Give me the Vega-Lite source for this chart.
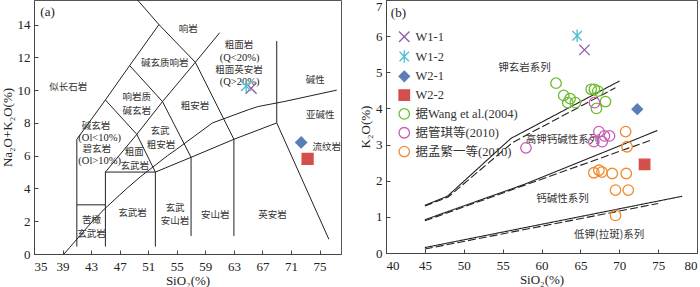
{
  "$schema": "https://vega.github.io/schema/vega-lite/v6.json",
  "background": "white",
  "padding": {"left": 0, "top": -1, "right": 0, "bottom": 0},
  "bounds": "flush",
  "spacing": 45,
  "config": {
    "font": "Liberation Serif",
    "view": {"stroke": "#555", "strokeWidth": 1},
    "axis": {
      "labelFont": "Liberation Serif", "labelFontSize": 13, "labelColor": "#222",
      "titleFont": "Liberation Serif", "titleFontSize": 13, "titleFontWeight": "normal", "titleColor": "#222",
      "domainColor": "#444", "tickColor": "#444", "tickSize": -4, "labelPadding": 8, "grid": false, "titlePadding": 3, "labelOverlap": false
    }
  },
  "datasets": {
    "tasLines": [
      {"seg": "a1", "o": 0, "x": 41, "y": 0.45}, {"seg": "a1", "o": 1, "x": 41, "y": 7}, {"seg": "a1", "o": 2, "x": 45, "y": 9.4}, {"seg": "a1", "o": 3, "x": 48.4, "y": 11.5}, {"seg": "a1", "o": 4, "x": 52.5, "y": 14}, {"seg": "a1", "o": 5, "x": 49.5, "y": 15.5},
      {"seg": "a2", "o": 0, "x": 41, "y": 3}, {"seg": "a2", "o": 1, "x": 45, "y": 3},
      {"seg": "a3", "o": 0, "x": 45, "y": 0.45}, {"seg": "a3", "o": 1, "x": 45, "y": 5}, {"seg": "a3", "o": 2, "x": 52, "y": 5}, {"seg": "a3", "o": 3, "x": 52, "y": 0.45},
      {"seg": "a4", "o": 0, "x": 45, "y": 5}, {"seg": "a4", "o": 1, "x": 49.4, "y": 7.3}, {"seg": "a4", "o": 2, "x": 52, "y": 5},
      {"seg": "a5", "o": 0, "x": 52, "y": 5}, {"seg": "a5", "o": 1, "x": 57, "y": 5.9}, {"seg": "a5", "o": 2, "x": 63, "y": 7}, {"seg": "a5", "o": 3, "x": 69, "y": 8}, {"seg": "a5", "o": 4, "x": 76.3, "y": 0.9},
      {"seg": "a6", "o": 0, "x": 57, "y": 1.1}, {"seg": "a6", "o": 1, "x": 57, "y": 5.9}, {"seg": "a6", "o": 2, "x": 53, "y": 9.3}, {"seg": "a6", "o": 3, "x": 49.4, "y": 7.3}, {"seg": "a6", "o": 4, "x": 45, "y": 9.4},
      {"seg": "a7", "o": 0, "x": 48.4, "y": 11.5}, {"seg": "a7", "o": 1, "x": 53, "y": 9.3}, {"seg": "a7", "o": 2, "x": 57.6, "y": 11.7}, {"seg": "a7", "o": 3, "x": 52.5, "y": 14},
      {"seg": "a8", "o": 0, "x": 63, "y": 1.1}, {"seg": "a8", "o": 1, "x": 63, "y": 7}, {"seg": "a8", "o": 2, "x": 57.6, "y": 11.7}, {"seg": "a8", "o": 3, "x": 61, "y": 13.5},
      {"seg": "a9", "o": 0, "x": 69, "y": 8}, {"seg": "a9", "o": 1, "x": 69, "y": 13},
      {"seg": "a10", "o": 0, "x": 39.2, "y": 0}, {"seg": "a10", "o": 1, "x": 40, "y": 0.4}, {"seg": "a10", "o": 2, "x": 43.2, "y": 2}, {"seg": "a10", "o": 3, "x": 45, "y": 2.8}, {"seg": "a10", "o": 4, "x": 48, "y": 4}, {"seg": "a10", "o": 5, "x": 50, "y": 4.75}, {"seg": "a10", "o": 6, "x": 53.7, "y": 6}, {"seg": "a10", "o": 7, "x": 55, "y": 6.4}, {"seg": "a10", "o": 8, "x": 60, "y": 8}, {"seg": "a10", "o": 9, "x": 65, "y": 8.8}, {"seg": "a10", "o": 10, "x": 66.4, "y": 9}, {"seg": "a10", "o": 11, "x": 70, "y": 9.3}, {"seg": "a10", "o": 12, "x": 77.4, "y": 10}
    ],
    "tasText": [
      {"t": "响岩", "x": 56.6, "y": 13.76},
      {"t": "碱玄质响岩", "x": 53.3, "y": 11.63},
      {"t": "似长石岩", "x": 39.8, "y": 10.18},
      {"t": "响岩质", "x": 49.4, "y": 9.56},
      {"t": "碱玄岩", "x": 49.4, "y": 8.7},
      {"t": "粗安岩", "x": 57.55, "y": 9.04},
      {"t": "粗面岩", "x": 63.7, "y": 12.74},
      {"t": "粗面英安岩", "x": 63.7, "y": 11.25},
      {"t": "碱性", "x": 74.4, "y": 10.62},
      {"t": "亚碱性", "x": 75.1, "y": 8.5},
      {"t": "碱玄岩", "x": 43.7, "y": 7.84},
      {"t": "碧玄岩", "x": 43.8, "y": 6.42},
      {"t": "玄武", "x": 52.65, "y": 7.5},
      {"t": "粗安岩", "x": 52.8, "y": 6.66},
      {"t": "粗面", "x": 49.05, "y": 6.2},
      {"t": "玄武岩", "x": 49.1, "y": 5.36},
      {"t": "流纹岩", "x": 76.0, "y": 6.53},
      {"t": "苦橄", "x": 43.06, "y": 2.1},
      {"t": "玄武岩", "x": 43.06, "y": 1.24},
      {"t": "玄武岩", "x": 48.8, "y": 2.49},
      {"t": "玄武", "x": 54.75, "y": 2.82},
      {"t": "安山岩", "x": 54.75, "y": 2.02},
      {"t": "安山岩", "x": 60.4, "y": 2.37},
      {"t": "英安岩", "x": 68.4, "y": 2.37}
    ],
    "tasLatin": [
      {"t": "(Q<20%)", "x": 63.8, "y": 11.98},
      {"t": "(Q>20%)", "x": 63.8, "y": 10.52},
      {"t": "(Ol<10%)", "x": 44.2, "y": 7.1},
      {"t": "(Ol>10%)", "x": 44.2, "y": 5.66}
    ],
    "samplesA": [
      {"s": "W1-1", "x": 65.41, "y": 10.11},
      {"s": "W1-2", "x": 64.71, "y": 10.25},
      {"s": "W2-1", "x": 72.42, "y": 6.81},
      {"s": "W2-2", "x": 73.32, "y": 5.81}
    ],
    "kLines": [
      {"seg": "b1", "scheme": "P", "o": 0, "x": 45, "y": 1.32}, {"seg": "b1", "scheme": "P", "o": 1, "x": 47.9, "y": 1.57}, {"seg": "b1", "scheme": "P", "o": 2, "x": 56.06, "y": 3.17}, {"seg": "b1", "scheme": "P", "o": 3, "x": 70.04, "y": 4.76},
      {"seg": "b1d", "scheme": "R", "o": 0, "x": 45, "y": 1.3}, {"seg": "b1d", "scheme": "R", "o": 1, "x": 48, "y": 1.55}, {"seg": "b1d", "scheme": "R", "o": 2, "x": 56.3, "y": 3.06}, {"seg": "b1d", "scheme": "R", "o": 3, "x": 69.5, "y": 4.57},
      {"seg": "b2", "scheme": "P", "o": 0, "x": 45, "y": 0.92}, {"seg": "b2", "scheme": "P", "o": 1, "x": 57.8, "y": 1.9}, {"seg": "b2", "scheme": "P", "o": 2, "x": 74.9, "y": 3.39},
      {"seg": "b2d", "scheme": "R", "o": 0, "x": 45, "y": 0.89}, {"seg": "b2d", "scheme": "R", "o": 1, "x": 74.3, "y": 3.14},
      {"seg": "b3", "scheme": "P", "o": 0, "x": 45, "y": 0.15}, {"seg": "b3", "scheme": "P", "o": 1, "x": 78.1, "y": 1.57},
      {"seg": "b3d", "scheme": "R", "o": 0, "x": 45, "y": 0.11}, {"seg": "b3d", "scheme": "R", "o": 1, "x": 75, "y": 1.37}
    ],
    "kText": [
      {"t": "钾玄岩系列", "x": 57.8, "y": 5.13},
      {"t": "高钾钙碱性系列", "x": 62.7, "y": 3.14},
      {"t": "钙碱性系列", "x": 62.7, "y": 1.5},
      {"t": "低钾(拉斑)系列", "x": 68.7, "y": 0.51}
    ],
    "samplesB": [
      {"s": "W1-1", "x": 65.52, "y": 5.62},
      {"s": "W1-2", "x": 64.58, "y": 6.01},
      {"s": "W2-1", "x": 72.32, "y": 3.98},
      {"s": "W2-2", "x": 73.26, "y": 2.45},
      {"s": "据Wang et al.(2004)", "x": 61.87, "y": 4.7},
      {"s": "据Wang et al.(2004)", "x": 62.86, "y": 4.36},
      {"s": "据Wang et al.(2004)", "x": 63.68, "y": 4.27},
      {"s": "据Wang et al.(2004)", "x": 63.38, "y": 4.16},
      {"s": "据Wang et al.(2004)", "x": 64.36, "y": 4.16},
      {"s": "据Wang et al.(2004)", "x": 66.39, "y": 4.53},
      {"s": "据Wang et al.(2004)", "x": 66.8, "y": 4.53},
      {"s": "据Wang et al.(2004)", "x": 67.25, "y": 4.48},
      {"s": "据Wang et al.(2004)", "x": 68.23, "y": 4.19},
      {"s": "据Wang et al.(2004)", "x": 67.07, "y": 4.0},
      {"s": "据管琪等(2010)", "x": 66.82, "y": 4.16},
      {"s": "据管琪等(2010)", "x": 67.38, "y": 3.36},
      {"s": "据管琪等(2010)", "x": 68.1, "y": 3.24},
      {"s": "据管琪等(2010)", "x": 68.75, "y": 3.24},
      {"s": "据管琪等(2010)", "x": 66.73, "y": 3.08},
      {"s": "据管琪等(2010)", "x": 67.81, "y": 3.08},
      {"s": "据管琪等(2010)", "x": 58.0, "y": 2.91},
      {"s": "据孟繁一等(2010)", "x": 70.82, "y": 3.36},
      {"s": "据孟繁一等(2010)", "x": 71.0, "y": 2.94},
      {"s": "据孟繁一等(2010)", "x": 66.73, "y": 2.22},
      {"s": "据孟繁一等(2010)", "x": 67.38, "y": 2.29},
      {"s": "据孟繁一等(2010)", "x": 67.77, "y": 2.24},
      {"s": "据孟繁一等(2010)", "x": 69.1, "y": 2.2},
      {"s": "据孟繁一等(2010)", "x": 70.9, "y": 2.2},
      {"s": "据孟繁一等(2010)", "x": 69.52, "y": 1.74},
      {"s": "据孟繁一等(2010)", "x": 71.16, "y": 1.74},
      {"s": "据孟繁一等(2010)", "x": 69.52, "y": 1.04}
    ]
  },
  "resolve": {
    "scale": {"shape": "independent", "fill": "independent", "stroke": "independent", "size": "independent", "strokeDash": "independent"},
    "legend": {"shape": "independent", "fill": "independent", "stroke": "independent", "size": "independent", "strokeDash": "independent"}
  },
  "hconcat": [
    {
      "width": 307,
      "height": 254,
      "layer": [
        {
          "data": {"name": "tasLines"},
          "mark": {"type": "line", "stroke": "#222", "strokeWidth": 1, "clip": true},
          "encoding": {
            "x": {"field": "x", "type": "quantitative", "scale": {"domain": [35, 78], "nice": false, "zero": false},
                  "axis": {"title": "SiO₂(%)", "values": [35, 39, 43, 47, 51, 55, 59, 63, 67, 71, 75], "tickCount": 30, "format": "d", "labelOverlap": false, "labelPadding": 10, "titlePadding": 1}},
            "y": {"field": "y", "type": "quantitative", "scale": {"domain": [0, 15.5], "nice": false},
                  "axis": {"title": "Na₂O+K₂O(%)", "values": [0, 2, 4, 6, 8, 10, 12, 14], "tickCount": 30, "format": "d", "labelOverlap": false}},
            "detail": {"field": "seg"},
            "order": {"field": "o"}
          }
        },
        {
          "data": {"name": "tasText"},
          "mark": {"type": "text", "font": "Noto Sans CJK SC", "fontSize": 9.5, "color": "#333", "align": "center", "baseline": "middle"},
          "encoding": {
            "x": {"field": "x", "type": "quantitative"},
            "y": {"field": "y", "type": "quantitative"},
            "text": {"field": "t"}
          }
        },
        {
          "data": {"name": "tasLatin"},
          "mark": {"type": "text", "font": "Liberation Serif", "fontSize": 10.5, "color": "#222", "align": "center", "baseline": "middle"},
          "encoding": {
            "x": {"field": "x", "type": "quantitative"},
            "y": {"field": "y", "type": "quantitative"},
            "text": {"field": "t"}
          }
        },
        {
          "data": {"values": [{"t": "(a)", "x": 36.9, "y": 14.76}]},
          "mark": {"type": "text", "font": "Liberation Serif", "fontSize": 13, "color": "#222", "align": "center", "baseline": "middle"},
          "encoding": {
            "x": {"field": "x", "type": "quantitative"},
            "y": {"field": "y", "type": "quantitative"},
            "text": {"field": "t"}
          }
        },
        {
          "data": {"name": "samplesA"},
          "mark": {"type": "point", "strokeWidth": 1.3, "opacity": 1},
          "encoding": {
            "x": {"field": "x", "type": "quantitative"},
            "y": {"field": "y", "type": "quantitative"},
            "shape": {"field": "s", "type": "nominal", "legend": null,
                      "scale": {"domain": ["W1-1", "W1-2", "W2-1", "W2-2"], "range": ["M-1,-1L1,1M-1,1L1,-1", "M-0.9,-0.9L0.9,0.9M-0.9,0.9L0.9,-0.9M0,-1.2L0,1.2", "diamond", "square"]}},
            "stroke": {"field": "s", "type": "nominal", "legend": null,
                       "scale": {"domain": ["W1-1", "W1-2", "W2-1", "W2-2"], "range": ["#8e5ba6", "#4bbfd0", "#5a7db5", "#d24f4a"]}},
            "fill": {"field": "s", "type": "nominal", "legend": null,
                     "scale": {"domain": ["W1-1", "W1-2", "W2-1", "W2-2"], "range": ["transparent", "transparent", "#5a7db5", "#d24f4a"]}},
            "size": {"field": "s", "type": "nominal", "legend": null,
                     "scale": {"domain": ["W1-1", "W1-2", "W2-1", "W2-2"], "range": [120, 120, 115, 128]}}
          }
        }
      ]
    },
    {
      "width": 311,
      "height": 253,
      "layer": [
        {
          "data": {"name": "kLines"},
          "mark": {"type": "line", "stroke": "#222", "strokeWidth": 1.1, "clip": true},
          "encoding": {
            "x": {"field": "x", "type": "quantitative", "scale": {"domain": [40, 80], "nice": false, "zero": false},
                  "axis": {"title": "SiO₂(%)", "values": [40, 45, 50, 55, 60, 65, 70, 75, 80], "tickCount": 30, "format": "d", "labelOverlap": false, "labelPadding": 10, "titlePadding": 1}},
            "y": {"field": "y", "type": "quantitative", "scale": {"domain": [0, 7], "nice": false},
                  "axis": {"title": "K₂O(%)", "values": [0, 1, 2, 3, 4, 5, 6, 7], "tickCount": 30, "format": "d", "labelOverlap": false,
                           "labelBaseline": {"condition": {"test": "datum.value == 7", "value": "top"}, "value": "middle"}}},
            "detail": {"field": "seg"},
            "order": {"field": "o"},
            "strokeDash": {"field": "scheme", "type": "nominal", "legend": null,
                           "scale": {"domain": ["P", "R"], "range": [[1, 0], [8, 3]]}}
          }
        },
        {
          "data": {"name": "kText"},
          "mark": {"type": "text", "font": "Noto Sans CJK SC", "fontSize": 10.5, "color": "#333", "align": "center", "baseline": "middle"},
          "encoding": {
            "x": {"field": "x", "type": "quantitative"},
            "y": {"field": "y", "type": "quantitative"},
            "text": {"field": "t"}
          }
        },
        {
          "data": {"values": [{"t": "(b)", "x": 41.6, "y": 6.65}]},
          "mark": {"type": "text", "font": "Liberation Serif", "fontSize": 13, "color": "#222", "align": "center", "baseline": "middle"},
          "encoding": {
            "x": {"field": "x", "type": "quantitative"},
            "y": {"field": "y", "type": "quantitative"},
            "text": {"field": "t"}
          }
        },
        {
          "data": {"name": "samplesB"},
          "mark": {"type": "point", "strokeWidth": 1.3, "opacity": 1},
          "encoding": {
            "x": {"field": "x", "type": "quantitative"},
            "y": {"field": "y", "type": "quantitative"},
            "shape": {"field": "s", "type": "nominal",
                      "scale": {"domain": ["W1-1", "W1-2", "W2-1", "W2-2", "据Wang et al.(2004)", "据管琪等(2010)", "据孟繁一等(2010)"],
                                "range": ["M-1,-1L1,1M-1,1L1,-1", "M-0.9,-0.9L0.9,0.9M-0.9,0.9L0.9,-0.9M0,-1.2L0,1.2", "diamond", "square", "circle", "circle", "circle"]},
                      "legend": {"title": null, "orient": "none", "legendX": 12, "legendY": 30.5, "padding": 0, "rowPadding": 1.8,
                                 "labelFont": "Liberation Serif, Noto Sans CJK SC", "labelFontSize": 12.5, "labelColor": "#333", "labelOffset": 5, "symbolStrokeWidth": 1.3}},
            "stroke": {"field": "s", "type": "nominal",
                       "scale": {"domain": ["W1-1", "W1-2", "W2-1", "W2-2", "据Wang et al.(2004)", "据管琪等(2010)", "据孟繁一等(2010)"],
                                 "range": ["#8e5ba6", "#4bbfd0", "#5a7db5", "#d24f4a", "#6cbb2e", "#c95bb4", "#ef8a2e"]}},
            "fill": {"field": "s", "type": "nominal",
                     "scale": {"domain": ["W1-1", "W1-2", "W2-1", "W2-2", "据Wang et al.(2004)", "据管琪等(2010)", "据孟繁一等(2010)"],
                               "range": ["transparent", "transparent", "#5a7db5", "#d24f4a", "transparent", "transparent", "transparent"]}},
            "size": {"field": "s", "type": "nominal",
                     "scale": {"domain": ["W1-1", "W1-2", "W2-1", "W2-2", "据Wang et al.(2004)", "据管琪等(2010)", "据孟繁一等(2010)"],
                               "range": [110, 110, 110, 128, 50, 50, 50]}}
          }
        }
      ]
    }
  ]
}
